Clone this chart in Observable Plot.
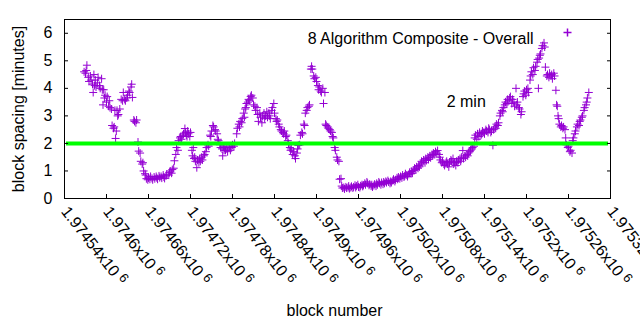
<!DOCTYPE html>
<html>
<head>
<meta charset="utf-8">
<script src="https://cdn.jsdelivr.net/npm/d3@7"></script>
<script src="https://cdn.jsdelivr.net/npm/@observablehq/plot@0.6"></script>
<style>
  html, body { margin: 0; padding: 0; background: #fff; }
  #chart svg { display: block; }
</style>
</head>
<body>
<div id="chart"></div>
<script>
// ---- data ----
const blocks = [
  1974568,1974570,1974571,1974572,1974574,1974575,1974577,1974578,1974580,1974581,1974582,1974583,1974584,1974585,1974587,1974588,
  1974590,1974591,1974593,1974594,1974595,1974596,1974597,1974598,1974600,1974601,1974603,1974604,1974605,1974607,1974608,1974610,
  1974611,1974612,1974613,1974614,1974615,1974616,1974617,1974619,1974621,1974623,1974624,1974626,1974627,1974629,1974630,1974632,
  1974633,1974635,1974636,1974637,1974639,1974640,1974642,1974643,1974645,1974646,1974648,1974649,1974651,1974652,1974653,1974655,
  1974656,1974657,1974659,1974660,1974662,1974663,1974665,1974666,1974668,1974669,1974671,1974672,1974673,1974675,1974676,1974678,
  1974679,1974681,1974682,1974683,1974685,1974686,
  1974689,1974690,1974691,1974693,1974694,1974696,1974697,1974699,1974700,1974702,1974703,1974705,1974706,1974707,1974709,1974710,
  1974712,1974713,1974714,1974715,1974716,1974717,1974719,1974720,1974722,1974723,1974724,1974725,1974726,1974727,1974729,1974730,
  1974732,1974733,1974734,1974736,1974737,1974739,1974740,1974742,1974743,1974745,1974746,1974748,1974749,1974750,1974752,1974753,
  1974755,1974756,1974758,1974759,1974760,1974762,1974763,1974765,1974766,1974767,1974768,1974769,1974770,1974772,1974773,1974775,
  1974776,1974777,1974779,1974780,1974782,1974783,1974786,1974787,1974789,1974790,1974791,1974793,1974794,1974796,1974797,1974798,
  1974799,1974800,1974802,1974803,1974804,1974806,1974807,
  1974809,1974810,1974812,1974813,1974815,1974816,1974817,1974819,1974820,1974822,1974823,1974825,1974826,1974827,1974829,1974830,
  1974832,1974833,1974834,1974836,1974837,1974839,1974840,1974842,1974843,1974844,1974846,1974847,1974849,1974850,1974852,1974853,
  1974854,1974856,1974857,1974859,1974860,1974862,1974863,1974864,1974866,1974867,1974869,1974870,1974872,1974873,1974874,1974876,
  1974877,1974879,1974880,1974882,1974883,1974884,1974886,1974887,1974889,1974890,1974892,1974893,1974894,1974896,1974897,1974899,
  1974900,1974902,1974903,1974904,1974906,1974907,1974909,1974910,1974912,1974913,1974914,1974916,1974917,1974919,1974920,1974922,
  1974923,1974924,1974926,1974927,1974929,1974930,1974932,
  1974933,1974935,1974936,1974937,1974939,1974940,1974942,1974943,1974945,1974946,1974947,1974949,1974950,1974952,1974953,1974955,
  1974956,1974957,1974959,1974960,1974962,1974963,1974965,1974966,1974967,1974969,1974970,1974972,1974973,1974975,1974976,1974978,
  1974979,1974980,1974982,1974983,1974985,1974986,1974987,1974989,1974990,1974992,1974993,1974995,1974996,1974997,1974999,1975000,
  1975002,1975003,1975005,1975006,1975007,1975009,1975010,1975012,1975013,1975015,1975016,1975017,1975019,1975020,1975022,1975023,
  1975025,1975026,1975027,1975029,1975030,1975032,1975033,1975035,1975036,1975037,1975039,1975040,1975042,1975043,1975045,1975046,
  1975047,1975049,1975050,1975052,1975053,1975055,
  1975056,1975057,1975059,1975060,1975062,1975063,1975065,1975066,1975067,1975069,1975070,1975072,1975073,1975075,1975076,1975077,
  1975079,1975080,1975082,1975083,1975085,1975086,1975087,1975089,1975090,1975092,1975093,1975095,1975096,1975097,1975099,1975100,
  1975102,1975103,1975105,1975106,1975107,1975109,1975110,1975112,1975113,1975115,1975116,1975117,1975119,1975120,1975122,1975123,
  1975125,1975126,1975127,1975129,1975130,1975132,1975133,1975135,1975136,1975137,1975139,1975140,1975142,1975143,1975145,1975146,
  1975147,1975149,1975150,1975152,1975153,1975155,1975156,1975157,1975159,1975160,1975162,1975163,1975165,1975166,1975167,1975169,
  1975170,1975172,1975173,1975175,1975176,1975177,
  1975179,1975180,1975182,1975183,1975185,1975186,1975187,1975189,1975190,1975192,1975193,1975195,1975196,1975197,1975199,1975200,
  1975202,1975203,1975205,1975206,1975207,1975209,1975210,1975212,1975213,1975215,1975216,1975217,1975218,1975219,1975220,1975222,
  1975223,1975225,1975226,1975227,1975229,1975230,1975232,1975233,1975235,1975236,1975237,1975239,1975240,1975242,1975243,1975244,
  1975245,1975246,1975247,1975249,1975250,1975252,1975253,1975255,1975256,1975257,1975259,1975260,1975262,1975263,1975265,1975266,
  1975267,1975269,1975270,1975272,1975273,1975275,1975276,1975277,1975279,1975280,1975282,1975283,1975285,1975286,1975287,1975289
];
const minutes = [
  4.6,4.55,4.65,4.84,4.4,4.25,4.45,4.3,4.15,3.85,4.5,4.1,4.3,4.05,4.2,4.4,
  4.1,4.0,4.35,3.95,3.4,3.95,3.65,3.75,3.5,3.7,3.35,3.55,3.3,3.25,2.65,2.55,
  2.6,3.2,2.18,2.45,3.2,3.0,3.05,3.25,3.6,3.55,3.85,3.6,3.55,3.65,3.75,3.9,
  3.85,4.05,4.15,3.67,2.85,2.8,2.75,2.85,2.05,1.72,1.65,1.35,1.25,1.3,1.0,0.9,
  0.85,0.72,0.68,0.75,0.7,0.8,0.73,0.68,0.78,0.72,0.8,0.75,0.7,0.82,0.76,0.8,
  0.74,0.85,0.78,0.73,0.82,0.88,
  0.85,0.95,1.0,0.92,1.05,1.1,1.37,1.6,1.85,1.75,2.1,2.2,2.25,2.15,2.3,2.35,
  2.54,2.4,2.3,2.25,2.45,2.35,2.25,2.4,1.75,1.55,1.85,1.45,1.5,1.35,1.12,1.4,
  1.3,1.45,1.35,1.5,1.4,1.55,1.6,1.7,1.85,1.95,1.9,2.3,2.25,2.45,2.65,2.6,
  2.5,2.45,2.35,2.15,2.1,1.95,1.85,1.8,1.55,1.9,1.75,1.85,1.75,1.8,1.7,1.85,
  1.9,1.75,1.85,1.95,1.9,2.0,2.35,2.55,2.7,2.6,2.8,2.75,2.9,3.1,2.95,3.25,
  3.3,3.45,3.5,3.6,3.55,3.7,3.75,
  3.65,3.4,3.35,3.2,3.3,3.05,2.8,3.1,2.95,2.75,3.0,3.1,2.9,3.0,3.15,2.95,
  3.1,3.0,2.9,3.2,3.3,3.45,3.1,2.9,2.8,2.85,2.7,2.6,2.5,2.45,2.4,2.35,
  2.45,2.25,2.3,2.1,2.0,1.85,1.75,1.8,1.6,1.7,1.55,1.45,1.65,1.8,1.93,1.95,
  2.3,2.4,2.35,2.7,2.65,3.1,3.2,3.3,3.35,3.4,4.7,4.8,4.7,4.45,4.35,4.4,
  4.25,4.1,3.95,4.05,3.9,3.85,4.0,3.45,3.85,2.7,2.65,2.6,2.55,2.5,2.45,2.4,
  2.25,2.2,1.85,1.75,1.5,1.4,1.35,
  0.7,0.72,0.45,0.38,0.4,0.35,0.42,0.38,0.4,0.45,0.36,0.4,0.44,0.38,0.42,0.48,
  0.4,0.45,0.5,0.42,0.4,0.46,0.5,0.44,0.48,0.55,0.5,0.6,0.55,0.48,0.52,0.45,
  0.5,0.42,0.47,0.52,0.45,0.55,0.5,0.6,0.55,0.5,0.58,0.52,0.6,0.55,0.62,0.58,
  0.65,0.6,0.55,0.62,0.58,0.65,0.7,0.62,0.68,0.75,0.7,0.78,0.72,0.8,0.75,0.85,
  0.78,0.82,0.9,0.85,0.8,0.88,0.95,0.9,0.98,0.92,1.02,1.1,1.05,1.15,1.1,1.2,
  1.15,1.25,1.35,1.3,1.4,1.3,
  1.45,1.38,1.5,1.42,1.55,1.48,1.6,1.55,1.65,1.6,1.7,1.65,1.74,1.6,1.5,1.4,
  1.3,1.35,1.25,1.2,1.3,1.35,1.25,1.15,1.3,1.4,1.35,1.45,1.25,1.3,1.2,1.35,
  1.3,1.4,1.45,1.35,1.5,1.74,1.45,1.55,1.5,1.6,1.55,1.65,1.7,1.75,1.8,1.85,
  1.9,2.2,2.3,2.15,2.35,2.25,2.4,2.3,2.35,2.45,2.4,2.35,2.5,2.45,2.4,2.55,
  2.5,2.4,2.45,1.93,2.5,2.6,2.55,2.7,2.65,2.75,3.0,3.1,3.2,3.15,3.3,3.4,
  3.5,3.45,3.6,3.55,3.65,3.7,
  3.45,3.6,3.5,3.35,4.0,3.4,3.5,3.3,3.25,3.05,3.15,3.7,3.8,3.9,3.75,3.95,
  4.0,3.85,4.3,4.45,4.6,4.5,4.75,4.65,4.8,4.95,5.05,4.0,5.1,5.2,5.25,5.45,
  5.55,5.65,5.5,4.77,4.45,4.5,4.4,4.55,4.45,4.5,4.35,4.55,4.45,3.93,3.4,3.35,
  3.0,2.9,2.7,2.6,2.65,2.55,2.6,2.5,2.2,1.95,1.85,1.9,1.7,1.75,1.65,2.1,
  2.2,2.35,2.45,2.6,2.7,2.65,2.8,2.85,2.95,3.0,3.2,3.3,3.4,3.5,3.65,3.85
];
const threshold = [2];
const yTicks = [0, 1, 2, 3, 4, 5, 6];
const xTicks = [1974540, 1974600, 1974660, 1974720, 1974780, 1974840, 1974900,
                1974960, 1975020, 1975080, 1975140, 1975200, 1975260, 1975320];
const xTickMantissas = ["1.97454", "1.9746", "1.97466", "1.97472", "1.97478", "1.97484", "1.9749",
                        "1.97496", "1.97502", "1.97508", "1.97514", "1.9752", "1.97526", "1.97532"];
const xTickExponent = "6";
const seriesTitle = "8 Algorithm Composite - Overall";
const lineLabel = "2 min";
const xLabel = "block number";
const yLabel = "block spacing [minutes]";

const data = blocks.map((b, i) => ({block: b, min: minutes[i]}));

const purple = "#9400d3";
const plus = {
  draw(ctx, size) {
    const r = Math.sqrt(size / Math.PI);
    ctx.moveTo(-r, 0); ctx.lineTo(r, 0);
    ctx.moveTo(0, -r); ctx.lineTo(0, r);
  }
};

const chart = Plot.plot({
  width: 640,
  height: 330,
  marginLeft: 64,
  marginRight: 30,
  marginTop: 19,
  marginBottom: 132,
  style: {fontFamily: "'Liberation Sans', Arial, sans-serif", fontSize: "16px", background: "#fff", color: "#000"},
  x: {domain: [1974540, 1975320]},
  y: {domain: [0, 6.5]},
  marks: [
    Plot.dot(data, {x: "block", y: "min", symbol: plus, r: 4, stroke: purple, fill: "none", strokeWidth: 1}),
    Plot.ruleY(threshold, {stroke: "#00ff00", strokeWidth: 4, insetLeft: 2, insetRight: 2}),
    Plot.frame({stroke: "#000", strokeWidth: 1}),
    Plot.axisY({ticks: yTicks, tickSize: -4, tickPadding: 16, tickFormat: d => String(d), label: null, fontSize: 16}),
    Plot.axisY({anchor: "right", ticks: yTicks, tickSize: -4, tickFormat: () => "", label: null}),
    Plot.axisX({ticks: xTicks, tickSize: -4, tickPadding: 14, tickRotate: 52,
                tickFormat: (d, i) => xTickMantissas[xTicks.indexOf(d)] + "x10", label: null, fontSize: 16}),
    Plot.text([lineLabel], {x: () => 1975086, y: () => 3.5, text: d => d, textAnchor: "start", fontSize: 16, fill: "#000"}),
    Plot.text([seriesTitle], {frameAnchor: "top-right", dx: -77, dy: 13, textAnchor: "end", fontSize: 16, fill: "#000"}),
    Plot.dot([seriesTitle], {frameAnchor: "top-right", dx: -43, dy: 13, symbol: plus, r: 4, stroke: purple, fill: "none"}),
    Plot.text([yLabel], {frameAnchor: "left", dx: -46, rotate: -90, textAnchor: "middle", lineAnchor: "middle", fontSize: 16, fill: "#000"}),
    Plot.text([xLabel], {frameAnchor: "bottom", dy: 117, dx: -3, textAnchor: "middle", fontSize: 16, fill: "#000"})
  ]
});
document.getElementById("chart").appendChild(chart);

// add the raised exponent to each x tick label (gnuplot style "x10^6")
d3.select(chart).selectAll('g[aria-label="x-axis tick label"] text').each(function() {
  const t = d3.select(this);
  t.append("tspan").attr("dx", "4").attr("dy", "-5").attr("font-size", "13").text(xTickExponent);
});
</script>
</body>
</html>
